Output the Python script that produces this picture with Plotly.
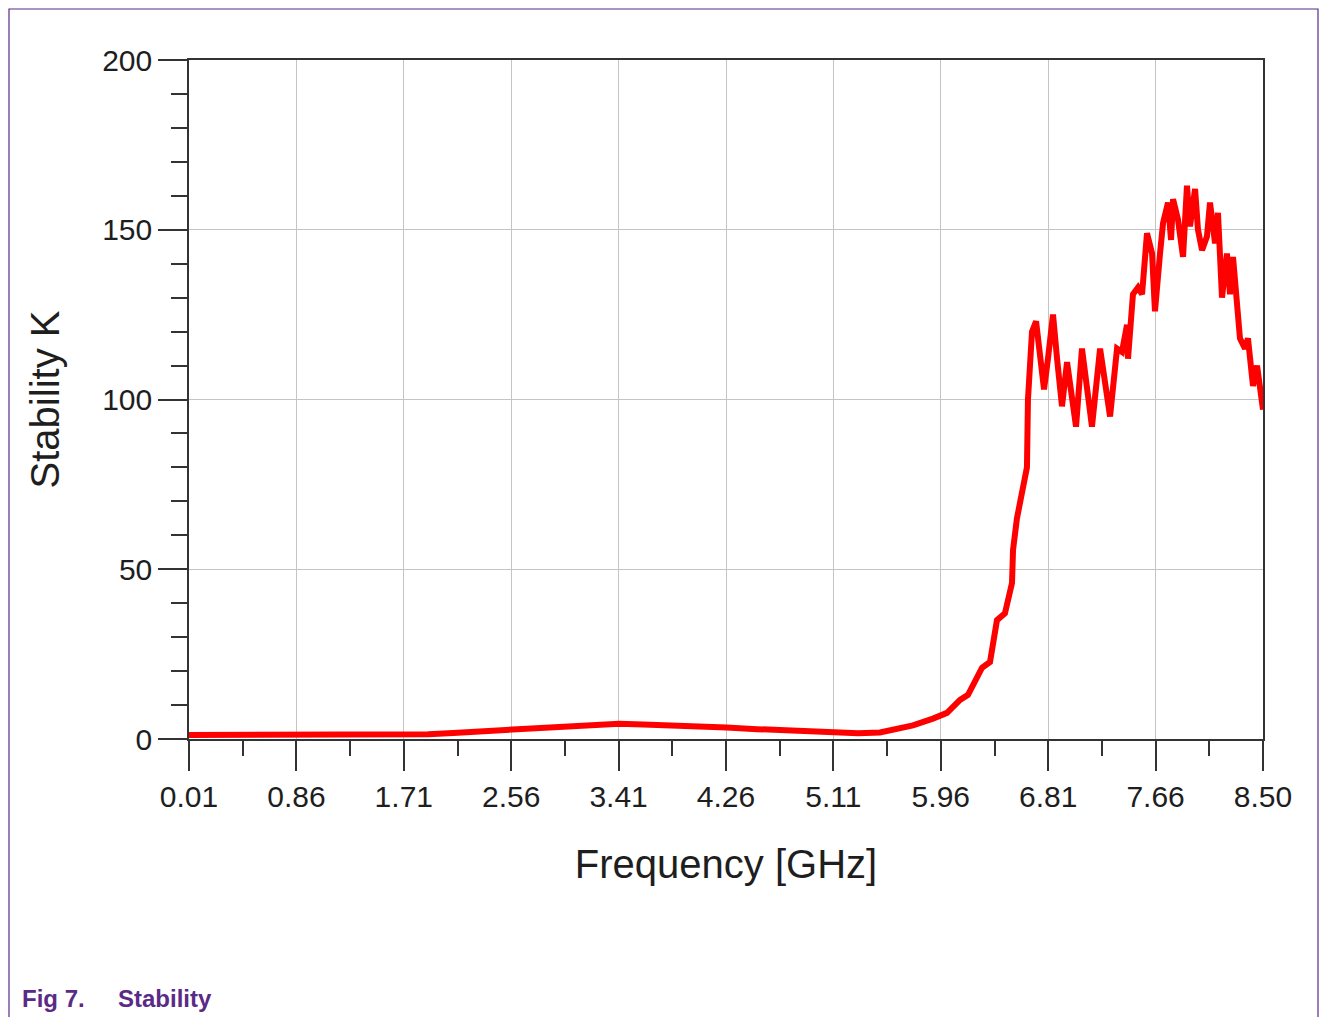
import numpy as np
import plotly.graph_objects as go

# Frequency [GHz]
freq = [0.01, 0.5, 1.0, 1.5, 1.9, 2.1, 2.3, 2.56, 2.8, 3.0, 3.2, 3.41, 3.6, 3.8, 4.0, 4.26,
        4.5, 4.8, 5.11, 5.3, 5.472, 5.6, 5.733, 5.891, 6.002, 6.105, 6.168, 6.279, 6.342,
        6.397, 6.460, 6.516, 6.524, 6.555, 6.603, 6.634, 6.642, 6.674, 6.706, 6.737, 6.769,
        6.800, 6.840, 6.872, 6.911, 6.951, 6.990, 7.022, 7.069, 7.109, 7.148, 7.212, 7.251,
        7.291, 7.346, 7.385, 7.425, 7.433, 7.472, 7.512, 7.544, 7.583, 7.623, 7.646, 7.686,
        7.710, 7.749, 7.773, 7.789, 7.828, 7.868, 7.899, 7.923, 7.963, 7.986, 8.018, 8.057,
        8.081, 8.121, 8.144, 8.176, 8.215, 8.239, 8.263, 8.318, 8.358, 8.381, 8.421, 8.453,
        8.476, 8.50]
# Stability factor K
stab_k = [1.2, 1.2, 1.2, 1.2, 1.4, 1.8, 2.2, 2.7, 3.3, 3.8, 4.2, 4.5, 4.3, 4.1, 3.8, 3.4,
          2.9, 2.4, 1.9, 1.7, 1.9, 2.8, 4.0, 6.0, 7.7, 11.5, 13, 21, 22.7,
          35, 37, 46, 55.7, 65, 75, 80, 100, 120, 123, 112, 103,
          112, 125, 112, 98, 111, 101, 92, 115, 104, 92, 115, 104,
          95, 115, 114, 122, 112, 131, 133, 131, 149, 143, 126, 143,
          152, 158, 147, 159, 153, 142, 163, 151, 162, 150, 144, 148,
          158, 146, 155, 130, 143, 131, 142, 118, 115, 118, 104, 110,
          104, 97]

x_tickvals = list(np.linspace(0.01, 8.50, 11))
x_ticktext = ["0.01", "0.86", "1.71", "2.56", "3.41", "4.26", "5.11", "5.96", "6.81", "7.66", "8.50"]
y_tickvals = [0, 50, 100, 150, 200]

OFF = 8  # page body margin
W, H = 1329 - OFF, 1017 - OFF
L, R, T, B = 189 - OFF, 1263 - OFF, 60 - OFF, 739 - OFF
def px_x(p):
    return (p - OFF - L) / (R - L)
def px_y(p):
    return (B - (p - OFF)) / (B - T)

font = "Liberation Sans, Arial, sans-serif"
purple = "#5B2A86"
ink = "#1E1E1E"

fig = go.Figure()
fig.add_trace(go.Scatter(x=freq, y=stab_k, mode="lines",
                         line=dict(color="#FF0000", width=6), showlegend=False))

fig.update_layout(
    width=W, height=H,
    margin=dict(l=L, r=W - R, t=T, b=H - B),
    paper_bgcolor="white", plot_bgcolor="white",
    font=dict(family=font, color=ink),
    xaxis=dict(
        range=[0.01, 8.50],
        tickmode="array", tickvals=x_tickvals, ticktext=x_ticktext,
        ticks="outside", ticklen=30, tickwidth=1.5, tickcolor="#333333",
        tickfont=dict(size=30, family=font, color=ink),
        showline=True, linecolor="#333333", linewidth=1.5, mirror=True,
        showgrid=True, gridcolor="#C4C4C4", gridwidth=1,
        zeroline=False,
        minor=dict(tickmode="array", tickvals=[0.01 + 0.849 * (i + 0.5) for i in range(10)],
                   ticks="outside", ticklen=15, tickwidth=1.5, tickcolor="#333333", showgrid=False),
        title=dict(text="Frequency [GHz]", font=dict(size=40, family=font, color=ink), standoff=38),
    ),
    yaxis=dict(
        range=[0, 200],
        tickmode="array", tickvals=y_tickvals,
        ticks="outside", ticklen=29, tickwidth=1.5, tickcolor="#333333",
        tickfont=dict(size=30, family=font, color=ink),
        showline=True, linecolor="#333333", linewidth=1.5, mirror=True,
        showgrid=True, gridcolor="#C4C4C4", gridwidth=1,
        zeroline=False,
        minor=dict(tickmode="linear", tick0=0, dtick=10,
                   ticks="outside", ticklen=16, tickwidth=1.5, tickcolor="#333333", showgrid=False),
        title=dict(text="Stability K", font=dict(size=40, family=font, color=ink), standoff=30),
    ),
    shapes=[dict(type="rect", xref="paper", yref="paper",
                 x0=px_x(9), x1=px_x(1318), y0=px_y(1040), y1=px_y(9),
                 line=dict(color=purple, width=1.2), fillcolor="rgba(0,0,0,0)", layer="below")],
    annotations=[
        dict(text="<b>Fig 7.</b>", xref="paper", yref="paper", x=px_x(20), y=px_y(998),
             xanchor="left", yanchor="middle", showarrow=False,
             font=dict(size=24, family=font, color=purple)),
        dict(text="<b>Stability</b>", xref="paper", yref="paper", x=px_x(116), y=px_y(998),
             xanchor="left", yanchor="middle", showarrow=False,
             font=dict(size=24, family=font, color=purple)),
    ],
)

fig.write_html("out.html")
